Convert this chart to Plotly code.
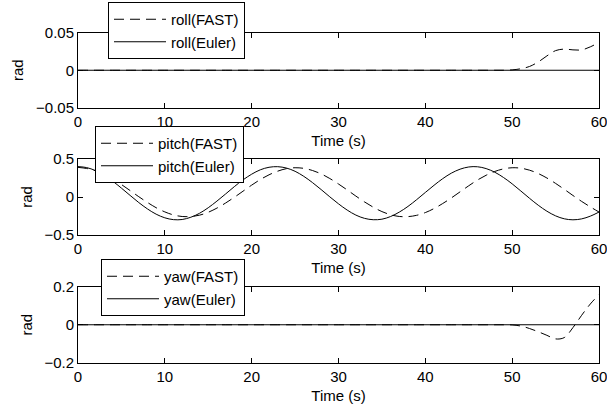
import plotly.graph_objects as go

# ---------------- data ----------------
time_s = [0, 1, 2, 3, 4, 5, 6, 7, 8, 9, 10, 11, 12, 13, 14, 15, 16, 17, 18, 19, 20,
          21, 22, 23, 24, 25, 26, 27, 28, 29, 30, 31, 32, 33, 34, 35, 36, 37, 38, 39, 40,
          41, 42, 43, 44, 45, 46, 47, 48, 49, 50, 51, 52, 53, 54, 55, 56, 57, 58, 59, 60]

roll_fast = [0.0, 0.0, 0.0, 0.0, 0.0, 0.0, 0.0, 0.0, 0.0, 0.0, 0.0,
             0.0, 0.0, 0.0, 0.0, 0.0, 0.0, 0.0, 0.0, 0.0, 0.0,
             0.0, 0.0, 0.0, 0.0, 0.0, 0.0, 0.0, 0.0, 0.0, 0.0,
             0.0, 0.0, 0.0, 0.0, 0.0, 0.0, 0.0, 0.0, 0.0, 0.0,
             0.0, 0.0, 0.0, 0.0, 0.0, 0.0, 0.0, 0.0, 0.0, 0.0005,
             0.002, 0.005, 0.011, 0.019, 0.026, 0.028, 0.027, 0.027, 0.031, 0.037]
flat_t = [0, 60]
roll_euler = [0.0, 0.0]

pitch_fast = [0.390, 0.375, 0.345, 0.298, 0.236, 0.164, 0.085, 0.004, -0.072, -0.141, -0.196,
              -0.236, -0.257, -0.257, -0.239, -0.201, -0.146, -0.079, -0.004, 0.076, 0.156,
              0.230, 0.292, 0.340, 0.373, 0.385, 0.377, 0.349, 0.304, 0.243, 0.171,
              0.093, 0.012, -0.065, -0.134, -0.192, -0.233, -0.256, -0.258, -0.241, -0.205,
              -0.152, -0.086, -0.012, 0.068, 0.148, 0.223, 0.286, 0.336, 0.370, 0.385,
              0.379, 0.353, 0.309, 0.250, 0.179, 0.101, 0.020, -0.058, -0.130, -0.198]
pitch_euler = [0.400, 0.387, 0.348, 0.287, 0.208, 0.117, 0.021, -0.073, -0.157, -0.226, -0.274,
               -0.298, -0.296, -0.266, -0.214, -0.141, -0.054, 0.040, 0.136, 0.225, 0.300,
               0.358, 0.391, 0.399, 0.381, 0.338, 0.272, 0.190, 0.098, 0.002, -0.090,
               -0.172, -0.238, -0.281, -0.299, -0.292, -0.257, -0.199, -0.124, -0.035, 0.060,
               0.154, 0.241, 0.314, 0.366, 0.395, 0.398, 0.374, 0.326, 0.257, 0.173,
               0.079, -0.017, -0.108, -0.187, -0.248, -0.287, -0.300, -0.288, -0.252, -0.198]

yaw_fast = [0.0, 0.0, 0.0, 0.0, 0.0, 0.0, 0.0, 0.0, 0.0, 0.0, 0.0,
            0.0, 0.0, 0.0, 0.0, 0.0, 0.0, 0.0, 0.0, 0.0, 0.0,
            0.0, 0.0, 0.0, 0.0, 0.0, 0.0, 0.0, 0.0, 0.0, 0.0,
            0.0, 0.0, 0.0, 0.0, 0.0, 0.0, 0.0, 0.0, 0.0, 0.0,
            0.0, 0.0, 0.0, 0.0, 0.0, 0.0, 0.0, 0.0, 0.0, -0.001,
            -0.007, -0.020, -0.037, -0.056, -0.075, -0.068, -0.015, 0.050, 0.110, 0.160]
yaw_euler = [0.0, 0.0]

x_ticks = [0, 10, 20, 30, 40, 50, 60]
roll_ticks = [-0.05, 0, 0.05]
roll_ticktext = ["\u22120.05", "0", "0.05"]
pitch_ticks = [-0.5, 0, 0.5]
pitch_ticktext = ["\u22120.5", "0", "0.5"]
yaw_ticks = [-0.2, 0, 0.2]
yaw_ticktext = ["\u22120.2", "0", "0.2"]

# ---------------- figure ----------------
W, H = 607, 415
FONT = "Liberation Sans, Arial, Helvetica, sans-serif"
FS = 15
DASH = "10px,6px"

fig = go.Figure()

panels = [
    ("x", "y", "legend", "roll", time_s, roll_fast, flat_t, roll_euler),
    ("x2", "y2", "legend2", "pitch", time_s, pitch_fast, time_s, pitch_euler),
    ("x3", "y3", "legend3", "yaw", time_s, yaw_fast, flat_t, yaw_euler),
]
for xa, ya, lg, name, tf, vf, te, ve in panels:
    fig.add_trace(go.Scatter(x=tf, y=vf, mode="lines", name=f"{name}(FAST)",
                             line=dict(color="black", width=1, dash=DASH, shape="spline"),
                             xaxis=xa, yaxis=ya, legend=lg))
    fig.add_trace(go.Scatter(x=te, y=ve, mode="lines", name=f"{name}(Euler)",
                             line=dict(color="black", width=1, shape="spline"),
                             xaxis=xa, yaxis=ya, legend=lg))

xdom = [78 / W, 599 / W]
ydoms = [
    [1 - 108 / H, 1 - 32.5 / H],
    [1 - 235 / H, 1 - 159 / H],
    [1 - 362.5 / H, 1 - 287 / H],
]
yticks = [(roll_ticks, roll_ticktext, [-0.05, 0.05]),
          (pitch_ticks, pitch_ticktext, [-0.5, 0.5]),
          (yaw_ticks, yaw_ticktext, [-0.2, 0.2])]

common = dict(showline=True, linecolor="black", linewidth=1, mirror="ticks",
              ticks="inside", ticklen=5, tickcolor="black", tickwidth=1, automargin=False,
              ticklabeloverflow="allow",
              showgrid=False, zeroline=False, tickfont=dict(family=FONT, size=FS, color="black"))

layout = dict(width=W, height=H, margin=dict(l=0, r=0, t=0, b=0, autoexpand=False),
              paper_bgcolor="white", plot_bgcolor="white",
              font=dict(family=FONT, size=FS, color="black"))
for i in range(3):
    sfx = "" if i == 0 else str(i + 1)
    anchor_y = "y" + sfx
    anchor_x = "x" + sfx
    layout["xaxis" + sfx] = dict(common, domain=xdom, range=[0, 60], tickvals=x_ticks,
                                 anchor=anchor_y,
                                 title=dict(text="Time (s)", standoff=6,
                                            font=dict(family=FONT, size=FS, color="black")))
    tv, tt, rng = yticks[i]
    layout["yaxis" + sfx] = dict(common, domain=ydoms[i], range=rng, tickvals=tv, ticktext=tt,
                                 anchor=anchor_x,
                                 title=dict(text="rad", standoff=8,
                                            font=dict(family=FONT, size=FS, color="black")))

leg_common = dict(bgcolor="white", bordercolor="black", borderwidth=1,
                  font=dict(family=FONT, size=FS, color="black"),
                  xanchor="left", yanchor="top", itemwidth=52, tracegroupgap=0)
layout["legend"] = dict(leg_common, x=108 / W, y=1 - 2 / H)
layout["legend2"] = dict(leg_common, x=95 / W, y=1 - 126 / H)
layout["legend3"] = dict(leg_common, x=101 / W, y=1 - 259 / H)

fig.update_layout(**layout)
fig.write_html("out.html", config={"displayModeBar": False},
               post_script="document.body.style.margin='0';document.body.style.padding='0';")
